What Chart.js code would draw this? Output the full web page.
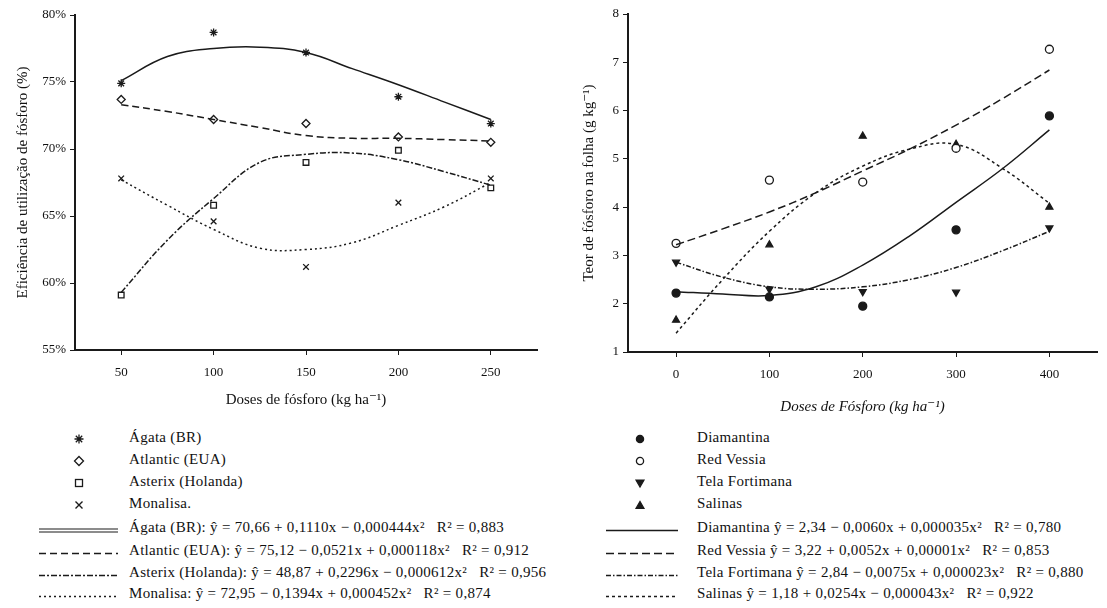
<!DOCTYPE html>
<html><head><meta charset="utf-8">
<script src="https://cdn.jsdelivr.net/npm/chart.js@4.4.1/dist/chart.umd.min.js"></script>
<style>
body{margin:0;background:#fff;width:1107px;height:608px;overflow:hidden;position:relative;font-family:"Liberation Serif","DejaVu Serif",serif;color:#111}
canvas{position:absolute;top:0}
#c1{left:0}
#c2{left:560px}
.row{position:absolute;height:20px;line-height:20px;white-space:pre;font-size:15px;letter-spacing:0.3px}
.mk{position:absolute}
</style></head>
<body>
<canvas id="c1" width="560" height="420"></canvas>
<canvas id="c2" width="547" height="420"></canvas>
<div id="legends"></div>
<script>
// ---------- LEFT PANEL DATA ----------
const leftDoses = [50, 100, 150, 200, 250];
const leftCurveDoses = [50, 75, 100, 125, 150, 175, 200, 225, 250];
const leftObsA = [74.9, 78.7, 77.2, 73.9, 71.9];
const leftObsB = [73.7, 72.2, 71.9, 70.9, 70.5];
const leftObsC = [59.1, 65.8, 69.0, 69.9, 67.1];
const leftObsD = [67.8, 64.6, 61.2, 66.0, 67.8];
const leftFitA = [75.1, 76.9, 77.5, 77.6, 77.2, 76.0, 74.8, 73.5, 72.2];
const leftFitB = [73.3, 72.8, 72.2, 71.6, 71.0, 70.8, 70.8, 70.7, 70.6];
const leftFitC = [59.3, 63.2, 66.3, 69.0, 69.6, 69.7, 69.2, 68.3, 67.3];
const leftFitD = [67.7, 65.8, 64.0, 62.6, 62.5, 63.0, 64.3, 65.7, 67.5];
const leftYTicks = [55, 60, 65, 70, 75, 80];
const leftXTicks = [50, 100, 150, 200, 250];
const leftNames = ["Ágata (BR)", "Atlantic (EUA)", "Asterix (Holanda)", "Monalisa."];
const leftEquations = [
  "Ágata (BR): ŷ = 70,66 + 0,1110x − 0,000444x²   R² = 0,883",
  "Atlantic (EUA): ŷ = 75,12 − 0,0521x + 0,000118x²   R² = 0,912",
  "Asterix (Holanda): ŷ = 48,87 + 0,2296x − 0,000612x²   R² = 0,956",
  "Monalisa: ŷ = 72,95 − 0,1394x + 0,000452x²   R² = 0,874"
];

// ---------- RIGHT PANEL DATA ----------
const rightDoses = [0, 100, 200, 300, 400];
const rightCurveDoses = [0, 50, 100, 150, 200, 250, 300, 350, 400];
const rightObsDiamantina = [2.22, 2.14, 1.95, 3.53, 5.89];
const rightObsRedVessia = [3.25, 4.56, 4.52, 5.22, 7.27];
const rightObsTela = [2.86, 2.30, 2.25, 2.24, 3.57];
const rightObsSalinas = [1.66, 3.22, 5.47, 5.30, 4.00];
const rightFitDiamantina = [2.25, 2.20, 2.17, 2.35, 2.80, 3.40, 4.10, 4.80, 5.60];
const rightFitRedVessia = [3.22, 3.55, 3.90, 4.30, 4.75, 5.20, 5.70, 6.25, 6.84];
const rightFitTela = [2.86, 2.55, 2.35, 2.30, 2.35, 2.50, 2.75, 3.10, 3.50];
const rightFitSalinas = [1.39, 2.50, 3.50, 4.30, 4.85, 5.20, 5.30, 4.80, 4.08];
const rightYTicks = [1, 2, 3, 4, 5, 6, 7, 8];
const rightXTicks = [0, 100, 200, 300, 400];
const rightNames = ["Diamantina", "Red Vessia", "Tela Fortimana", "Salinas"];
const rightEquations = [
  "Diamantina ŷ = 2,34 − 0,0060x + 0,000035x²   R² = 0,780",
  "Red Vessia ŷ = 3,22 + 0,0052x + 0,00001x²   R² = 0,853",
  "Tela Fortimana ŷ = 2,84 − 0,0075x + 0,000023x²   R² = 0,880",
  "Salinas ŷ = 1,18 + 0,0254x − 0,000043x²   R² = 0,922"
];

const INK = '#1a1a1a';
const FONT = '"Liberation Serif","DejaVu Serif",serif';

const leftMarkers = [
  {pointStyle:'star', rotation:0, fill:false},
  {pointStyle:'rectRot', rotation:0, fill:false},
  {pointStyle:'rect', rotation:0, fill:false},
  {pointStyle:'crossRot', rotation:0, fill:false}
];
const leftDashes = [[], [7,4], [6,2,2,2], [2,3]];
const rightMarkers = [
  {pointStyle:'circle', rotation:0, fill:true},
  {pointStyle:'circle', rotation:0, fill:false},
  {pointStyle:'triangle', rotation:180, fill:true},
  {pointStyle:'triangle', rotation:0, fill:true}
];
const rightDashes = [[], [8,4], [5,2,1.5,2], [3,3]];

function pts(xs, ys){ return xs.map((x,i)=>({x:x, y:ys[i]})); }

function buildDatasets(doses, curveDoses, obs, fits, markers, dashes){
  const ds = [];
  fits.forEach((f,i)=>{
    ds.push({data:pts(curveDoses,f), showLine:true, pointRadius:0, borderColor:INK,
      borderWidth:1.5, borderDash:dashes[i], tension:0.4, fill:false});
  });
  obs.forEach((o,i)=>{
    const m = markers[i];
    ds.push({data:pts(doses,o), showLine:false, pointStyle:m.pointStyle, rotation:m.rotation,
      pointRadius:4, pointBorderWidth:1.3, pointBorderColor:INK,
      pointBackgroundColor: m.fill ? INK : '#fff'});
  });
  return ds;
}

function axisCommon(ticksArr, fitSize, horizontal, titleText, titleOpts, tickPad){
  return {
    type:'linear',
    bounds:'data',
    afterBuildTicks: s => { s.ticks = ticksArr.map(v=>({value:v})); },
    afterFit: s => { if(horizontal) s.height = fitSize; else s.width = fitSize; },
    grid:{drawOnChartArea:false, drawTicks:true, tickLength:5, color:INK, lineWidth:1},
    border:{display:true, color:INK, width:2},
    ticks:{color:'#111', autoSkip:false, maxRotation:0, padding:tickPad,
      font:{family:FONT, size:13}, callback: v => titleOpts.fmt ? titleOpts.fmt(v) : String(v)},
    title:{display:true, text:titleText, color:'#111',
      font:{family:FONT, size:15, style:titleOpts.italic?'italic':'normal'},
      padding:titleOpts.padding}
  };
}

function makeChart(id, datasets, xmin, xmax, ymin, ymax, xTicks, yTicks, xh, yw, pad, xTitle, yTitle, xOpts, yOpts){
  const xs = axisCommon(xTicks, xh, true, xTitle, xOpts, 10);
  xs.min = xmin; xs.max = xmax;
  const ys = axisCommon(yTicks, yw, false, yTitle, yOpts, 4);
  ys.min = ymin; ys.max = ymax;
  return new Chart(document.getElementById(id), {
    type:'scatter',
    data:{datasets},
    options:{
      responsive:false, animation:false,
      layout:{padding:pad},
      plugins:{legend:{display:false}, tooltip:{enabled:false}},
      scales:{x:xs, y:ys}
    }
  });
}

makeChart('c1',
  buildDatasets(leftDoses, leftCurveDoses, [leftObsA,leftObsB,leftObsC,leftObsD],
    [leftFitA,leftFitB,leftFitC,leftFitD], leftMarkers, leftDashes),
  25, 275, 55, 80, leftXTicks, leftYTicks, 70, 75,
  {top:15, right:23, left:0, bottom:0},
  'Doses de fósforo (kg ha⁻¹)', 'Eficiência de utilização de fósforo (%)',
  {padding:{top:0,bottom:11}},
  {padding:{top:14,bottom:0}, fmt: v => v + '%'});

makeChart('c2',
  buildDatasets(rightDoses, rightCurveDoses,
    [rightObsDiamantina,rightObsRedVessia,rightObsTela,rightObsSalinas],
    [rightFitDiamantina,rightFitRedVessia,rightFitTela,rightFitSalinas], rightMarkers, rightDashes),
  -51.5, 451, 1, 8, rightXTicks, rightYTicks, 68, 68,
  {top:14, right:10, left:0, bottom:0},
  'Doses de Fósforo (kg ha⁻¹)', 'Teor de fósforo na folha (g kg⁻¹)',
  {padding:{top:0,bottom:4}, italic:true},
  {padding:{top:20,bottom:0}});

// ---------- LEGENDS (HTML) ----------
const rowY = [437, 459, 481, 503, 527, 550, 572, 593];
const legendRoot = document.getElementById('legends');

function markerSVG(m){
  const fill = m.fill ? INK : 'none';
  let shape = '';
  switch(m.pointStyle){
    case 'circle': shape = `<circle cx="6" cy="6" r="3.6" fill="${fill}" stroke="${INK}" stroke-width="1.3"/>`; break;
    case 'triangle': shape = m.rotation===180
        ? `<polygon points="2,3 10,3 6,10" fill="${fill}" stroke="${INK}" stroke-width="1.2"/>`
        : `<polygon points="2,9.5 10,9.5 6,2.5" fill="${fill}" stroke="${INK}" stroke-width="1.2"/>`; break;
    case 'rect': shape = `<rect x="2.5" y="2.5" width="7" height="7" fill="none" stroke="${INK}" stroke-width="1.3"/>`; break;
    case 'rectRot': shape = `<polygon points="6,1.5 10.5,6 6,10.5 1.5,6" fill="none" stroke="${INK}" stroke-width="1.3"/>`; break;
    case 'crossRot': shape = `<path d="M2.5,2.5 L9.5,9.5 M9.5,2.5 L2.5,9.5" stroke="${INK}" stroke-width="1.4"/>`; break;
    case 'star': shape = `<path d="M6,1.5 L6,10.5 M1.5,6 L10.5,6 M2.8,2.8 L9.2,9.2 M9.2,2.8 L2.8,9.2" stroke="${INK}" stroke-width="1.3"/>`; break;
  }
  return `<svg width="12" height="12" viewBox="0 0 12 12">${shape}</svg>`;
}
function lineSVG(dash, w, dbl){
  const da = dash.length ? `stroke-dasharray="${dash.join(',')}"` : '';
  let body = '';
  if(dbl){
    body = `<line x1="0" y1="4" x2="${w}" y2="4" stroke="${INK}" stroke-width="1.2"/><line x1="0" y1="7" x2="${w}" y2="7" stroke="${INK}" stroke-width="1.2"/>`;
  } else {
    body = `<line x1="0" y1="5.5" x2="${w}" y2="5.5" stroke="${INK}" stroke-width="1.6" ${da}/>`;
  }
  return `<svg width="${w}" height="11">${body}</svg>`;
}
function addLegend(names, equations, markers, dashes, markerX, lineX0, lineX1, textX, doubleFirst){
  names.forEach((n,i)=>{
    const y = rowY[i];
    const mk = document.createElement('div'); mk.className='mk';
    mk.style.left = (markerX-6)+'px'; mk.style.top = (y-6)+'px';
    mk.innerHTML = markerSVG(markers[i]); legendRoot.appendChild(mk);
    const t = document.createElement('div'); t.className='row';
    t.style.left = textX+'px'; t.style.top = (y-10)+'px'; t.textContent = n;
    legendRoot.appendChild(t);
  });
  equations.forEach((e,i)=>{
    const y = rowY[4+i];
    const ln = document.createElement('div'); ln.className='mk';
    ln.style.left = lineX0+'px'; ln.style.top = (y-5)+'px';
    ln.innerHTML = lineSVG(dashes[i], lineX1-lineX0, doubleFirst && i===0);
    legendRoot.appendChild(ln);
    const t = document.createElement('div'); t.className='row';
    t.style.left = textX+'px'; t.style.top = (y-10)+'px'; t.textContent = e;
    legendRoot.appendChild(t);
  });
}
addLegend(leftNames, leftEquations, leftMarkers, leftDashes, 79, 39, 118, 129, true);
addLegend(rightNames, rightEquations, rightMarkers, rightDashes, 640, 606, 678, 697, false);
</script>
</body></html>
